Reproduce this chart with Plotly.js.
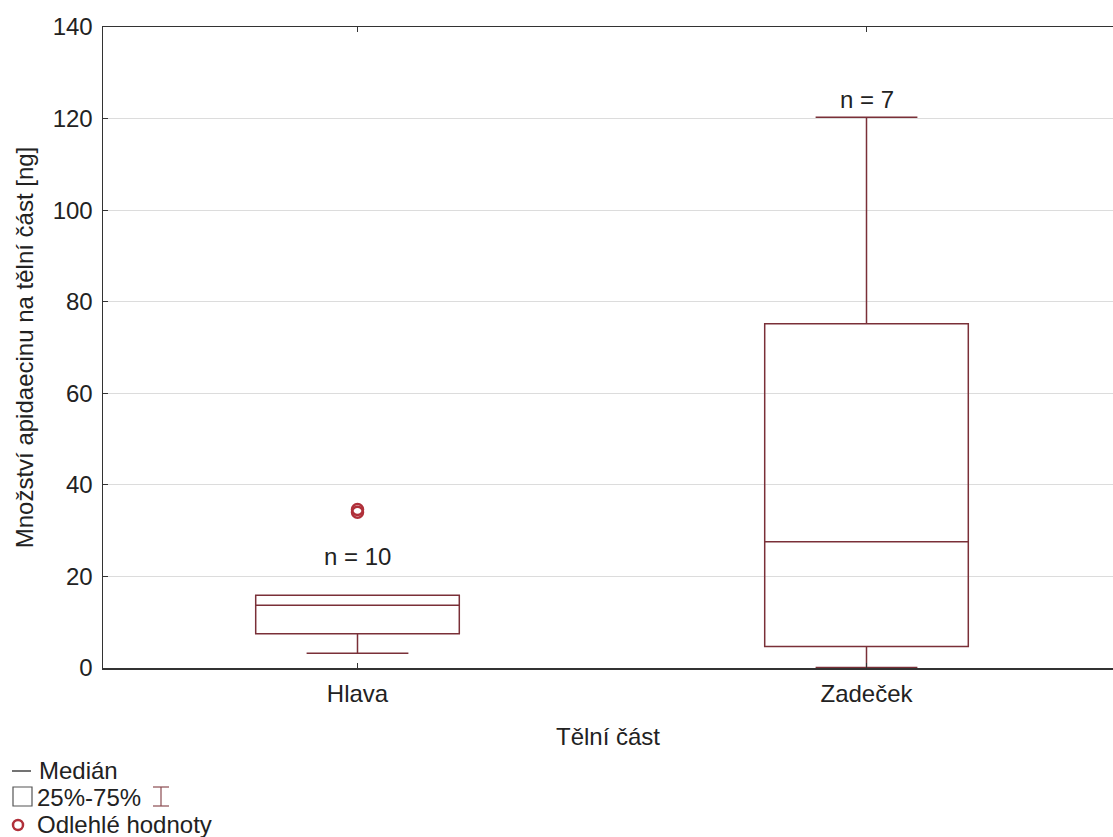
<!DOCTYPE html>
<html>
<head>
<meta charset="utf-8">
<script src="https://cdn.plot.ly/plotly-3.0.1.min.js"></script>
<style>html,body{margin:0;padding:0;background:#fff;}#chart{width:1113px;height:837px;}</style>
</head>
<body>
<div id="chart"></div>
<script>
// ---- data ----
const categories = ['Hlava', 'Zadeček'];
const q1Values = [7.5, 4.7];
const medianValues = [13.7, 27.6];
const q3Values = [15.9, 75.2];
const lowerWhisker = [3.2, 0.1];
const upperWhisker = [15.9, 120.3];
const outliersHlava = [34.0, 34.6];
const outliersZadecek = [];
const nCounts = [10, 7];
const yTicks = [0, 20, 40, 60, 80, 100, 120, 140];

// ---- style ----
const W = 1113, H = 837;
const M = {l: 103, r: 0, t: 27, b: 169};
const boxColor = '#7a3038';
const outColor = '#b0303a';
const FONT = 'Liberation Sans, Arial, sans-serif';
const FS = 24;
const TXT = '#222';

const xIdx = categories.map((c, i) => i);

const traces = [
  {
    type: 'box',
    x: xIdx,
    q1: q1Values,
    median: medianValues,
    q3: q3Values,
    lowerfence: lowerWhisker,
    upperfence: upperWhisker,
    width: 0.4,
    whiskerwidth: 0.5,
    fillcolor: 'rgba(255,255,255,0)',
    line: {color: boxColor, width: 1.5},
    hoverinfo: 'skip',
    showlegend: false
  },
  {
    type: 'scatter',
    mode: 'markers',
    x: outliersHlava.map(() => 0).concat(outliersZadecek.map(() => 1)),
    y: outliersHlava.concat(outliersZadecek),
    marker: {symbol: 'circle-open', size: 11, color: outColor, line: {width: 2.5, color: outColor}},
    showlegend: false,
    hoverinfo: 'skip'
  }
];

// n labels, placed above the upper extent of each group
const nShift = [23, 2];
const annotations = categories.map((c, i) => ({
  x: i, y: upperWhisker[i], xref: 'x', yref: 'y',
  text: 'n = ' + nCounts[i], showarrow: false,
  yanchor: 'bottom', yshift: nShift[i],
  font: {family: FONT, size: FS, color: TXT}
}));

// helpers to place legend items in pixel coordinates
const PW = W - M.l - M.r, PH = H - M.t - M.b;
const px = v => (v - M.l) / PW;
const py = v => (H - M.b - v) / PH;

const legendItems = [
  {text: 'Medián', x: 37, y: 770},
  {text: '25%-75%', x: 35, y: 797},
  {text: 'Odlehlé hodnoty', x: 35, y: 825}
];
legendItems.forEach(it => annotations.push({
  xref: 'paper', yref: 'paper', x: px(it.x), y: py(it.y),
  xanchor: 'left', yanchor: 'middle', showarrow: false,
  text: it.text, font: {family: FONT, size: FS, color: TXT}
}));

const shapes = [
  // median symbol
  {type: 'line', xref: 'paper', yref: 'paper', x0: px(12), x1: px(31), y0: py(771), y1: py(771), line: {color: '#444', width: 1.5}},
  // box symbol
  {type: 'rect', xref: 'paper', yref: 'paper', x0: px(13), x1: px(32), y0: py(787), y1: py(806), line: {color: '#555', width: 1.2}},
  // whisker symbol
  {type: 'line', xref: 'paper', yref: 'paper', x0: px(161), x1: px(161), y0: py(787), y1: py(806), line: {color: '#8a4a50', width: 1.2}},
  {type: 'line', xref: 'paper', yref: 'paper', x0: px(153), x1: px(169), y0: py(787), y1: py(787), line: {color: '#8a4a50', width: 1.2}},
  {type: 'line', xref: 'paper', yref: 'paper', x0: px(153), x1: px(169), y0: py(806), y1: py(806), line: {color: '#8a4a50', width: 1.2}},
  // outlier symbol
  {type: 'circle', xref: 'paper', yref: 'paper', x0: px(13), x1: px(23), y0: py(820), y1: py(830), line: {color: outColor, width: 2.5}}
];

const layout = {
  width: W, height: H,
  margin: M,
  paper_bgcolor: '#fff', plot_bgcolor: '#fff',
  font: {family: FONT, size: FS, color: TXT},
  showlegend: false,
  xaxis: {
    range: [-0.5, -0.5 + PW / 509],
    tickmode: 'array', tickvals: xIdx, ticktext: categories,
    ticks: 'inside', ticklen: 5, tickcolor: '#333',
    showline: true, linecolor: '#333', linewidth: 1.5, mirror: 'ticks',
    showgrid: false, zeroline: false,
    ticklabelstandoff: 4,
    tickfont: {family: FONT, size: FS, color: TXT},
    title: {text: 'Tělní část', font: {family: FONT, size: FS, color: TXT}, standoff: 22}
  },
  yaxis: {
    range: [0, 140],
    tickmode: 'array', tickvals: yTicks,
    ticks: 'inside', ticklen: 5, tickcolor: '#333',
    showline: true, linecolor: '#333', linewidth: 1.5,
    showgrid: true, gridcolor: '#dcdcdc', gridwidth: 1,
    zeroline: false,
    ticklabelstandoff: 4,
    tickfont: {family: FONT, size: FS, color: TXT},
    title: {text: 'Množství apidaecinu na tělní část [ng]', font: {family: FONT, size: FS, color: TXT}, standoff: 12}
  },
  annotations: annotations,
  shapes: shapes
};

Plotly.newPlot('chart', traces, layout, {displayModeBar: false, staticPlot: true});
</script>
</body>
</html>
